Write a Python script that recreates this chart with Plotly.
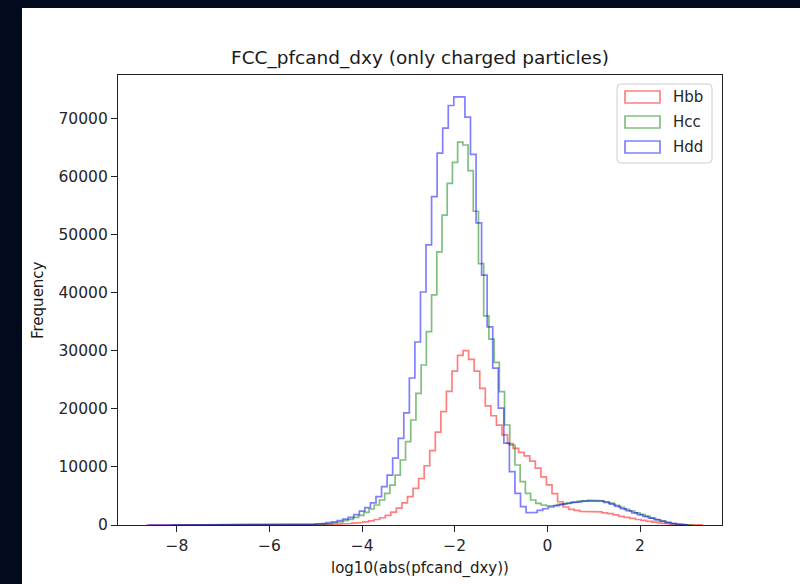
import numpy as np
import plotly.graph_objects as go

# ---- data (histogram counts per bin) ----
series_names = ["Hbb", "Hcc", "Hdd"]

hbb_start = -8.66
hbb_width = 0.12
hbb_counts = [1, 0, 0, 1, 0, 0, 1, 0, 1, 0, 1, 1, 0, 1, 1, 2, 1, 2, 2, 3, 3, 4, 5, 6, 7, 9, 11, 15,
              20, 30, 40, 55, 75, 100, 140, 190, 250, 320, 420, 550, 720, 950, 1250, 1650, 2200, 2900,
              3800, 4900, 6300, 8000, 10200, 12800, 16000, 19500, 23000, 26500, 29200,
              30000,
              28500, 26500, 23500, 20500, 18800, 17200, 15500, 14000, 13200, 12500, 11900, 11000, 9800,
              8300, 6900, 5400, 4000, 3100, 2700, 2500, 2350, 2300, 2300, 2250, 2100, 1950, 1750, 1500,
              1300, 1150, 950, 780, 620, 480, 350, 250, 170, 110, 70, 40, 20, 8]

hcc_start = -8.125
hcc_width = 0.1125
hcc_counts = [0, 0, 1, 0, 0, 0, 1, 0, 0, 1, 0, 1, 0, 1, 1, 1, 2, 2, 3, 3, 4, 5, 7, 9, 13,
              20, 35, 60, 100, 150, 230, 340, 520, 750, 980, 1320, 1660, 2180, 2750, 3440, 4300, 5460,
              6880, 8600, 11190, 14340, 18070, 22660, 27540, 33270, 39600, 47000, 53350, 58800, 62400,
              65900, 65400, 61000, 54000, 45000, 36000, 32000, 28000, 22940, 17210, 13770, 10330, 7450,
              5460, 4300, 3730, 3440, 3300, 3350, 3500, 3650, 3800, 3950, 4080, 4200, 4280, 4250, 4180,
              4000, 3750, 3400, 3050, 2700, 2400, 2100, 1800, 1500, 1200, 900, 650, 430, 250, 120, 50, 10]

hdd_start = -8.62
hdd_width = 0.12
hdd_counts = [1, 0, 0, 0, 0, 1, 0, 0, 1, 0, 0, 1, 0, 1, 1, 0, 1, 1, 1, 1, 2,
              2, 3, 5, 8, 12, 20, 35, 60, 110, 180, 280, 400, 550, 750, 1000, 1300, 1800, 2400, 3000,
              3800, 4900, 6600, 8600, 11500, 14900, 19300, 25300, 31500, 40100, 48200, 56500, 64000,
              68300, 72200,
              73700, 73700, 70200, 63800, 52000, 43000, 34100, 27000, 20100, 14100, 9200, 5460, 3150,
              2120, 2150, 2500, 2800, 3100, 3350, 3550, 3700, 3850, 3980, 4100, 4200, 4200, 4100, 3900,
              3600, 3200, 2800, 2450, 2100, 1800, 1500, 1200, 920, 680, 450, 270, 130, 40]

x_tick_vals = [-8, -6, -4, -2, 0, 2]
x_tick_text = ["\u22128", "\u22126", "\u22124", "\u22122", "0", "2"]
y_tick_vals = [0, 10000, 20000, 30000, 40000, 50000, 60000, 70000]
y_tick_text = ["0", "10000", "20000", "30000", "40000", "50000", "60000", "70000"]

colors = ["rgba(255,0,0,0.5)", "rgba(0,128,0,0.5)", "rgba(0,0,255,0.5)"]

FONT = "DejaVu Sans"

def step_xy(start, width, counts):
    counts = np.asarray(counts, dtype=float)
    edges = start + width * np.arange(len(counts) + 1)
    xs = np.repeat(edges, 2)
    ys = np.concatenate([[0.0], np.repeat(counts, 2), [0.0]])
    return xs, ys

fig = go.Figure()
for name, st, w, cts, col in zip(series_names,
                                 [hbb_start, hcc_start, hdd_start],
                                 [hbb_width, hcc_width, hdd_width],
                                 [hbb_counts, hcc_counts, hdd_counts], colors):
    xs, ys = step_xy(st, w, cts)
    fig.add_trace(go.Scatter(x=xs, y=ys, mode="lines", name=name,
                             line=dict(color=col, width=1.7), showlegend=False,
                             hoverinfo="skip"))

# plot-area geometry in pixels
L, R, T, B = 118, 722, 75, 525
W, H = R - L, B - T

def px_x(p):
    return (p - L) / W

def px_y(p):
    return (B - p) / H

shapes = []
# white figure panel on dark page
shapes.append(dict(type="rect", xref="paper", yref="paper",
                   x0=px_x(22), x1=px_x(800), y0=px_y(584), y1=px_y(8),
                   fillcolor="white", line=dict(width=0), layer="below"))

# legend box (rounded)
lx0, lx1, ly0, ly1, r = 617, 712, 84, 163, 4
def rounded_path(x0, y0, x1, y1, r):
    pts = [
        f"M {px_x(x0 + r)},{px_y(y0)}",
        f"L {px_x(x1 - r)},{px_y(y0)}",
        f"Q {px_x(x1)},{px_y(y0)} {px_x(x1)},{px_y(y0 + r)}",
        f"L {px_x(x1)},{px_y(y1 - r)}",
        f"Q {px_x(x1)},{px_y(y1)} {px_x(x1 - r)},{px_y(y1)}",
        f"L {px_x(x0 + r)},{px_y(y1)}",
        f"Q {px_x(x0)},{px_y(y1)} {px_x(x0)},{px_y(y1 - r)}",
        f"L {px_x(x0)},{px_y(y0 + r)}",
        f"Q {px_x(x0)},{px_y(y0)} {px_x(x0 + r)},{px_y(y0)}",
        "Z",
    ]
    return " ".join(pts)

shapes.append(dict(type="path", xref="paper", yref="paper",
                   path=rounded_path(lx0, ly0, lx1, ly1, r),
                   fillcolor="rgba(255,255,255,0.8)",
                   line=dict(color="rgb(204,204,204)", width=1), layer="above"))

annotations = []
for i, (name, col) in enumerate(zip(series_names, colors)):
    cy = 97 + 25 * i
    shapes.append(dict(type="rect", xref="paper", yref="paper",
                       x0=px_x(625), x1=px_x(660), y0=px_y(cy + 6), y1=px_y(cy - 6),
                       fillcolor="rgba(0,0,0,0)", line=dict(color=col, width=1.7),
                       layer="above"))
    annotations.append(dict(text=name, xref="paper", yref="paper",
                            x=px_x(671), y=px_y(cy), xanchor="left", yanchor="middle",
                            showarrow=False, font=dict(family=FONT, size=15, color="#262626")))

# title and axis labels
annotations.append(dict(text="FCC_pfcand_dxy (only charged particles)", xref="paper", yref="paper",
                        x=0.5, y=px_y(58), xanchor="center", yanchor="middle", showarrow=False,
                        font=dict(family=FONT, size=18.5, color="#1a1a1a")))
annotations.append(dict(text="log10(abs(pfcand_dxy))", xref="paper", yref="paper",
                        x=0.5, y=px_y(568), xanchor="center", yanchor="middle", showarrow=False,
                        font=dict(family=FONT, size=15, color="#1a1a1a")))
annotations.append(dict(text="Frequency", xref="paper", yref="paper",
                        x=px_x(38), y=0.5, xanchor="center", yanchor="middle", showarrow=False,
                        textangle=-90, font=dict(family=FONT, size=15, color="#1a1a1a")))

fig.update_layout(
    width=800, height=584,
    margin=dict(l=L, r=800 - R, t=T, b=584 - B),
    paper_bgcolor="#020b1e",
    plot_bgcolor="white",
    shapes=shapes,
    annotations=annotations,
    showlegend=False,
)

axis_common = dict(showgrid=False, zeroline=False, showline=True, linecolor="#222222",
                   linewidth=1.2, mirror=True, ticks="outside", ticklen=6, tickwidth=1.2,
                   tickcolor="#222222", tickfont=dict(family=FONT, size=15.5, color="#262626"))

fig.update_xaxes(range=[-9.27, 3.77], tickvals=x_tick_vals, ticktext=x_tick_text, **axis_common)
fig.update_yaxes(range=[0, 77450], tickvals=y_tick_vals, ticktext=y_tick_text, **axis_common)

fig.write_html("out.html")
